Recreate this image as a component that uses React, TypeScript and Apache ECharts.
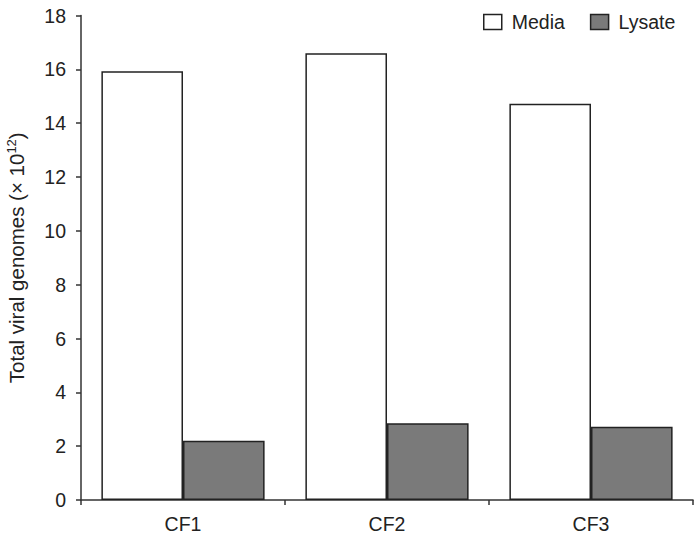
import React, { useEffect, useRef } from "react";
import * as echarts from "echarts";

const categories = ["CF1", "CF2", "CF3"];
const mediaValues = [15.93, 16.6, 14.72];
const lysateValues = [2.2, 2.85, 2.72];
const yTicks = { min: 0, max: 18, interval: 2 };

export default function App() {
  const ref = useRef<HTMLDivElement>(null);
  useEffect(() => {
    if (!ref.current) return;
    const chart = echarts.init(ref.current, null, { renderer: "svg" });
    const font = "Liberation Sans, Arial, Helvetica, sans-serif";
    const fs = 19.5;
    chart.setOption({
      animation: false,
      backgroundColor: "#ffffff",
      textStyle: { fontFamily: font },
      grid: { left: 81, right: 7, top: 15.5, bottom: 38, containLabel: false, outerBoundsMode: "none" },
      legend: {
        left: 478,
        top: 7,
        itemWidth: 18,
        itemHeight: 15,
        itemGap: 25,
        icon: "rect",
        textStyle: { fontSize: fs, color: "#222", fontFamily: font, padding: [0, 0, 0, 5] },
        data: [
          { name: "Media", itemStyle: { color: "#ffffff", borderColor: "#222", borderWidth: 1.5 } },
          { name: "Lysate", itemStyle: { color: "#7a7a7a", borderColor: "#222", borderWidth: 1.5 } },
        ],
      },
      xAxis: {
        type: "category",
        data: categories,
        axisLine: { lineStyle: { color: "#333", width: 1.5 } },
        axisTick: { show: true, length: 5, lineStyle: { color: "#333", width: 1.5 } },
        axisLabel: { fontSize: fs, color: "#222", margin: 14, fontFamily: font },
      },
      yAxis: {
        type: "value",
        min: yTicks.min,
        max: yTicks.max,
        interval: yTicks.interval,
        splitLine: { show: false },
        axisLine: { show: true, lineStyle: { color: "#333", width: 1.5 } },
        axisTick: { show: true, length: 5, lineStyle: { color: "#333", width: 1.5 } },
        axisLabel: { fontSize: fs, color: "#222", margin: 15, fontFamily: font },
        name: "{a|Total viral genomes (× 10}{s|12}{a|)}",
        nameLocation: "middle",
        nameGap: 48,
        nameRotate: 90,
        nameTextStyle: {
          rich: {
            a: { fontSize: 20.5, color: "#222", fontFamily: font, height: 23 },
            s: { fontSize: 13, color: "#222", fontFamily: font, verticalAlign: "top", height: 23, padding: [0, 0, 10, 0] },
          },
        },
      },
      series: [
        {
          name: "Media",
          type: "bar",
          data: mediaValues,
          barGap: "0%",
          barCategoryGap: "20%",
          itemStyle: { color: "#ffffff", borderColor: "#222", borderWidth: 1.5 },
        },
        {
          name: "Lysate",
          type: "bar",
          data: lysateValues,
          barGap: "0%",
          barCategoryGap: "20%",
          itemStyle: { color: "#7a7a7a", borderColor: "#222", borderWidth: 1.5 },
        },
      ],
    });
    return () => chart.dispose();
  }, []);
  return <div ref={ref} style={{ width: 700, height: 538, position: "absolute", left: 0, top: 0 }} />;
}
